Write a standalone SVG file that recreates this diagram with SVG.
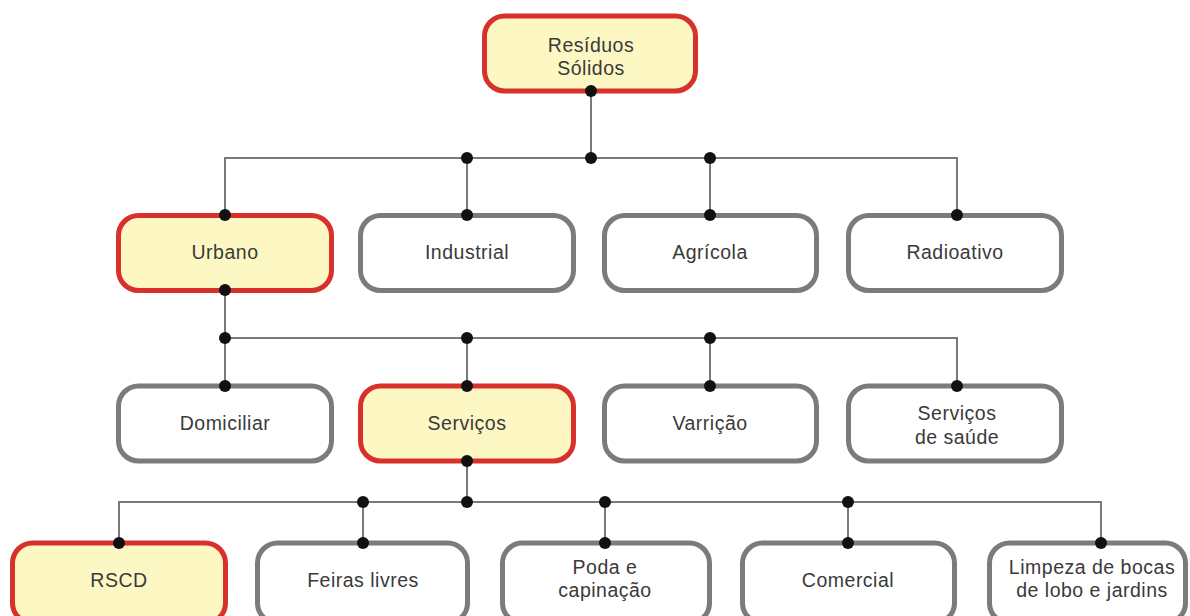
<svg xmlns="http://www.w3.org/2000/svg" width="1190" height="616" viewBox="0 0 1190 616">
  <style>
    .box { fill: #ffffff; stroke: #7b7b7b; stroke-width: 5; }
    .hl { fill: #fdf7c4; stroke: #d8302a; stroke-width: 5; }
    .lbl { font-family: "Liberation Sans", Arial, sans-serif; font-size: 19.5px; letter-spacing: 0.5px; fill: #3a3a3a; text-anchor: middle; }
    .wire { fill: none; stroke: #7a7a7a; stroke-width: 2; }
    .dot { fill: #111111; }
  </style>
  <rect width="1190" height="616" fill="#ffffff"/>

  <!-- root -->
  <g id="residuos-solidos">
    <rect class="hl" x="484.5" y="16" width="211" height="75" rx="20"/>
    <text class="lbl" x="591" y="52">Resíduos</text>
    <text class="lbl" x="591" y="75">Sólidos</text>
  </g>

  <!-- level 1 -->
  <g id="urbano">
    <rect class="hl" x="118.5" y="215.5" width="213" height="75" rx="20"/>
    <text class="lbl" x="225" y="259">Urbano</text>
  </g>
  <g id="industrial">
    <rect class="box" x="360.5" y="215.5" width="213" height="75" rx="20"/>
    <text class="lbl" x="467" y="259">Industrial</text>
  </g>
  <g id="agricola">
    <rect class="box" x="604.5" y="215.5" width="212" height="75" rx="20"/>
    <text class="lbl" x="710" y="259">Agrícola</text>
  </g>
  <g id="radioativo">
    <rect class="box" x="848.5" y="215.5" width="213" height="75" rx="20"/>
    <text class="lbl" x="955" y="259">Radioativo</text>
  </g>

  <!-- level 2 -->
  <g id="domiciliar">
    <rect class="box" x="118.5" y="386" width="213" height="75" rx="20"/>
    <text class="lbl" x="225" y="430">Domiciliar</text>
  </g>
  <g id="servicos">
    <rect class="hl" x="360.5" y="386" width="213" height="75" rx="20"/>
    <text class="lbl" x="467" y="430">Serviços</text>
  </g>
  <g id="varricao">
    <rect class="box" x="604.5" y="386" width="212" height="75" rx="20"/>
    <text class="lbl" x="710" y="430">Varrição</text>
  </g>
  <g id="servicos-saude">
    <rect class="box" x="848.5" y="386" width="213" height="75" rx="20"/>
    <text class="lbl" x="957" y="420">Serviços</text>
    <text class="lbl" x="957" y="444">de saúde</text>
  </g>

  <!-- level 3 -->
  <g id="rscd">
    <rect class="hl" x="12.5" y="543" width="213" height="80" rx="20"/>
    <text class="lbl" x="119" y="587">RSCD</text>
  </g>
  <g id="feiras-livres">
    <rect class="box" x="257.5" y="543" width="210" height="80" rx="20"/>
    <text class="lbl" x="363" y="587">Feiras livres</text>
  </g>
  <g id="poda-capinacao">
    <rect class="box" x="502.5" y="543" width="207" height="80" rx="20"/>
    <text class="lbl" x="605" y="574">Poda e</text>
    <text class="lbl" x="605" y="597">capinação</text>
  </g>
  <g id="comercial">
    <rect class="box" x="742.5" y="543" width="212" height="80" rx="20"/>
    <text class="lbl" x="848" y="587">Comercial</text>
  </g>
  <g id="limpeza">
    <rect class="box" x="989.5" y="543" width="196" height="80" rx="20"/>
    <text class="lbl" x="1092" y="574">Limpeza de bocas</text>
    <text class="lbl" x="1092" y="597">de lobo e jardins</text>
  </g>

  <!-- connectors, drawn last so the junction dots sit on the box borders -->
  <g id="connectors">
    <path class="wire" d="M591 91 V158 M225 215 V158 H957 V215 M467 158 V215 M710 158 V215"/>
    <path class="wire" d="M225 290 V338 M225 338 H957 V386 M225 338 V386 M467 338 V386 M710 338 V386"/>
    <path class="wire" d="M467 461 V502 M119 543 V502 H1101 V543 M363 502 V543 M605 502 V543 M848 502 V543"/>
    <g class="dot">
      <circle cx="591" cy="91" r="6"/>
      <circle cx="467" cy="158" r="6"/>
      <circle cx="591" cy="158" r="6"/>
      <circle cx="710" cy="158" r="6"/>
      <circle cx="225" cy="215" r="6"/>
      <circle cx="467" cy="215" r="6"/>
      <circle cx="710" cy="215" r="6"/>
      <circle cx="957" cy="215" r="6"/>
      <circle cx="225" cy="290" r="6"/>
      <circle cx="225" cy="338" r="6"/>
      <circle cx="467" cy="338" r="6"/>
      <circle cx="710" cy="338" r="6"/>
      <circle cx="225" cy="386" r="6"/>
      <circle cx="467" cy="386" r="6"/>
      <circle cx="710" cy="386" r="6"/>
      <circle cx="957" cy="386" r="6"/>
      <circle cx="467" cy="461" r="6"/>
      <circle cx="363" cy="502" r="6"/>
      <circle cx="467" cy="502" r="6"/>
      <circle cx="605" cy="502" r="6"/>
      <circle cx="848" cy="502" r="6"/>
      <circle cx="119" cy="543" r="6"/>
      <circle cx="363" cy="543" r="6"/>
      <circle cx="605" cy="543" r="6"/>
      <circle cx="848" cy="543" r="6"/>
      <circle cx="1101" cy="543" r="6"/>
    </g>
  </g>
</svg>
